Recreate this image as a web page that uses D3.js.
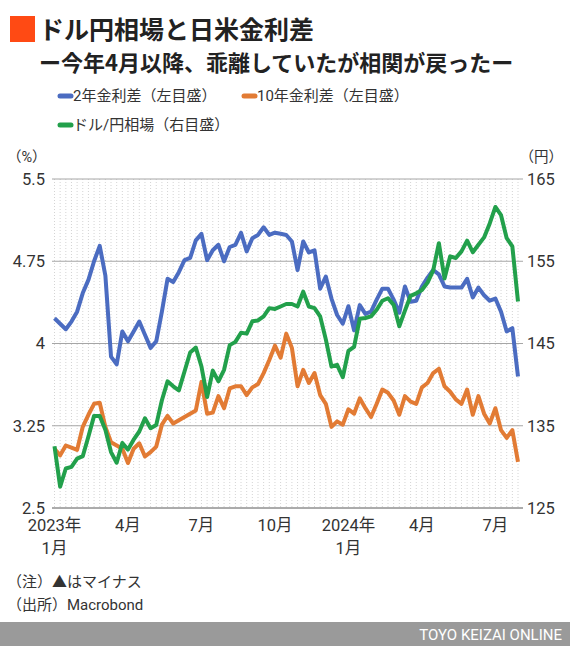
<!DOCTYPE html>
<html>
<head>
<meta charset="utf-8">
<script src="https://cdn.jsdelivr.net/npm/d3@7"></script>
<style>
  body { margin: 0; background: #fff; }
  svg { display: block; font-family: Roboto, 'Noto Sans CJK JP', sans-serif; }
</style>
</head>
<body>
<div id="chart"></div>
<script>
// weekly data, Fridays 2023-01-06 .. 2024-08-02
const startDate = new Date(2023, 0, 6);
const endDate = new Date(2024, 7, 3);

const spread2y = [4.23, 4.18, 4.13, 4.20, 4.29, 4.46, 4.58, 4.75, 4.89, 4.62,
  3.88, 3.81, 4.11, 4.02, 4.11, 4.20, 4.08, 3.96, 4.02, 4.29,
  4.59, 4.56, 4.65, 4.76, 4.78, 4.94, 5.00, 4.76, 4.85, 4.90,
  4.75, 4.88, 4.90, 5.01, 4.84, 4.96, 4.99, 5.06, 4.99, 5.01,
  5.00, 4.99, 4.93, 4.67, 4.93, 4.83, 4.85, 4.50, 4.61, 4.41,
  4.26, 4.18, 4.34, 4.12, 4.35, 4.27, 4.29, 4.40, 4.50, 4.50,
  4.40, 4.28, 4.52, 4.38, 4.39, 4.52, 4.60, 4.67, 4.63, 4.52,
  4.51, 4.51, 4.51, 4.59, 4.42, 4.51, 4.44, 4.39, 4.41, 4.29,
  4.11, 4.14, 3.70];

const spread10y = [3.04, 2.98, 3.07, 3.05, 3.03, 3.24, 3.35, 3.45, 3.46, 3.24,
  3.10, 3.07, 3.04, 2.91, 3.04, 3.09, 2.97, 3.01, 3.06, 3.26,
  3.34, 3.27, 3.30, 3.33, 3.36, 3.39, 3.65, 3.36, 3.37, 3.52,
  3.41, 3.59, 3.61, 3.61, 3.53, 3.60, 3.63, 3.73, 3.85, 3.98,
  3.87, 4.09, 3.96, 3.61, 3.76, 3.64, 3.73, 3.53, 3.45, 3.24,
  3.29, 3.26, 3.40, 3.36, 3.50, 3.41, 3.33, 3.45, 3.58, 3.55,
  3.48, 3.35, 3.52, 3.47, 3.45, 3.60, 3.64, 3.73, 3.77, 3.61,
  3.56, 3.49, 3.45, 3.58, 3.35, 3.52, 3.36, 3.27, 3.41, 3.21,
  3.14, 3.21, 2.92];

const usdjpy = [132.5, 127.6, 129.8, 130.0, 131.0, 131.3, 133.7, 136.2, 136.2, 134.5,
  131.8, 130.5, 132.9, 132.1, 133.3, 134.3, 135.9, 134.7, 135.1, 138.1,
  140.4, 139.8, 139.3, 141.6, 143.9, 144.5, 142.2, 138.5, 141.7, 140.4,
  141.8, 144.8, 145.2, 146.3, 146.2, 147.7, 147.8, 148.3, 149.3, 149.2,
  149.5, 149.8, 149.8, 149.5, 151.3, 149.5, 149.3, 148.3, 145.5, 142.2,
  142.4, 140.9, 144.1, 144.6, 148.0, 148.1, 148.3, 149.1, 150.2, 150.5,
  149.7, 147.1, 149.0, 150.8, 151.1, 151.5, 152.4, 153.9, 157.2, 152.9,
  155.6, 155.4, 156.2, 157.5, 156.1, 157.0, 157.9, 159.6, 161.6, 160.6,
  157.8, 156.8, 150.1];

const leftTicks = [2.5, 3.25, 4, 4.75, 5.5];
const rightTicks = [125, 135, 145, 155, 165];
const xTickDates = ['2023-01-06', '2023-04-07', '2023-07-07', '2023-10-06', '2024-01-05', '2024-04-05', '2024-07-05'];
const xTickLabels = [['2023年', '1月'], ['4月'], ['7月'], ['10月'], ['2024年', '1月'], ['4月'], ['7月']];

const seriesNames = ['2年金利差（左目盛）', '10年金利差（左目盛）', 'ドル/円相場（右目盛）'];
const colors = ['#4b6cc1', '#e27b34', '#22a04b'];

const width = 570, height = 646;
const margin = { top: 179, right: 47, bottom: 138, left: 52 };

const svg = d3.select('#chart').append('svg')
  .attr('width', width).attr('height', height)
  .attr('viewBox', [0, 0, width, height]);

const dates = d3.timeFriday.range(startDate, endDate);
const parse = d3.timeParse('%Y-%m-%d');

const xScale = d3.scaleTime()
  .domain(d3.extent(dates))
  .range([54.5, 518]);
const yLeft = d3.scaleLinear().domain([2.5, 5.5]).range([height - margin.bottom, margin.top]);
const yRight = d3.scaleLinear().domain([125, 165]).range([height - margin.bottom, margin.top]);

// title
svg.append('rect').attr('x', 10).attr('y', 16).attr('width', 25).attr('height', 26).attr('fill', '#ff4a14');
svg.append('text').attr('x', 39).attr('y', 39)
  .attr('font-size', 25).attr('font-weight', 700).attr('fill', '#222')
  .attr('font-family', "'Noto Sans CJK JP', sans-serif")
  .text('ドル円相場と日米金利差');
svg.append('text').attr('x', 39).attr('y', 71)
  .attr('font-size', 22).attr('font-weight', 700).attr('fill', '#222')
  .attr('font-family', "'Noto Sans CJK JP', sans-serif")
  .text('ー今年4月以降、乖離していたが相関が戻ったー');

// legend
const legendPos = [[58, 96], [242, 96], [58, 125]];
const legend = svg.append('g').selectAll('g').data(seriesNames).join('g')
  .attr('transform', (d, i) => `translate(${legendPos[i][0]},${legendPos[i][1]})`);
legend.append('line').attr('x1', 2).attr('x2', 13)
  .attr('stroke', (d, i) => colors[i]).attr('stroke-width', 5).attr('stroke-linecap', 'round');
legend.append('text').attr('x', 15).attr('dy', '0.35em')
  .attr('font-size', 15).attr('fill', '#333').text(d => d);

// unit labels
svg.append('text').attr('x', 7).attr('y', 157).attr('dy', '0.35em').attr('font-size', 14.5).attr('fill', '#333').text('（%）');
svg.append('text').attr('x', 563).attr('y', 157).attr('dy', '0.35em').attr('text-anchor', 'end').attr('font-size', 14.5).attr('fill', '#333').text('（円）');

// vertical dotted grid
svg.append('g').selectAll('line').data(dates).join('line')
  .attr('x1', d => xScale(d)).attr('x2', d => xScale(d))
  .attr('y1', margin.top).attr('y2', height - margin.bottom)
  .attr('stroke', '#d4d4d4').attr('stroke-width', 1).attr('stroke-dasharray', '1,2');

// horizontal grid
svg.append('g').selectAll('line').data(leftTicks).join('line')
  .attr('x1', margin.left).attr('x2', width - margin.right)
  .attr('y1', d => yLeft(d)).attr('y2', d => yLeft(d))
  .attr('stroke', d => d === 2.5 ? '#595959' : '#a6a6a6').attr('stroke-width', 1);

// axes
const leftAxisG = svg.append('g').attr('transform', `translate(${margin.left},0)`)
  .call(d3.axisLeft(yLeft).tickValues(leftTicks).tickSize(0).tickPadding(7).tickFormat(d => d));
const rightAxisG = svg.append('g').attr('transform', `translate(${width - margin.right},0)`)
  .call(d3.axisRight(yRight).tickValues(rightTicks).tickSize(0).tickPadding(4));
[leftAxisG, rightAxisG].forEach(g => {
  g.select('.domain').remove();
  g.selectAll('.tick text').attr('font-size', 16.5).attr('fill', '#333')
    .attr('font-family', 'Roboto, sans-serif');
});

const xLabelG = svg.append('g').selectAll('text').data(xTickDates).join('text')
  .attr('x', d => xScale(parse(d)))
  .attr('y', 531)
  .attr('text-anchor', 'middle').attr('font-size', 16.5).attr('fill', '#333');
xLabelG.selectAll('tspan').data((d, i) => xTickLabels[i]).join('tspan')
  .attr('x', function() { return d3.select(this.parentNode).attr('x'); })
  .attr('dy', (d, i) => i === 0 ? 0 : 23)
  .text(d => d);

// lines
const lineLeft = d3.line().x((d, i) => xScale(dates[i])).y(d => yLeft(d));
const lineRight = d3.line().x((d, i) => xScale(dates[i])).y(d => yRight(d));
const plotG = svg.append('g').attr('fill', 'none').attr('stroke-width', 4).attr('stroke-linejoin', 'round');
plotG.append('path').datum(spread2y).attr('d', lineLeft).attr('stroke', colors[0]);
plotG.append('path').datum(spread10y).attr('d', lineLeft).attr('stroke', colors[1]);
plotG.append('path').datum(usdjpy).attr('d', lineRight).attr('stroke', colors[2]);

// notes
svg.append('text').attr('x', 7).attr('y', 587).attr('font-size', 15).attr('fill', '#333').text('（注）▲はマイナス');
svg.append('text').attr('x', 7).attr('y', 610).attr('font-size', 15).attr('fill', '#333').text('（出所）Macrobond');

// footer
svg.append('rect').attr('x', 0).attr('y', 622).attr('width', width).attr('height', 24).attr('fill', '#9a9a9a');
svg.append('text').attr('x', 562).attr('y', 639.5).attr('text-anchor', 'end')
  .attr('font-size', 15).attr('fill', '#fff').text('TOYO KEIZAI ONLINE');
</script>
</body>
</html>
